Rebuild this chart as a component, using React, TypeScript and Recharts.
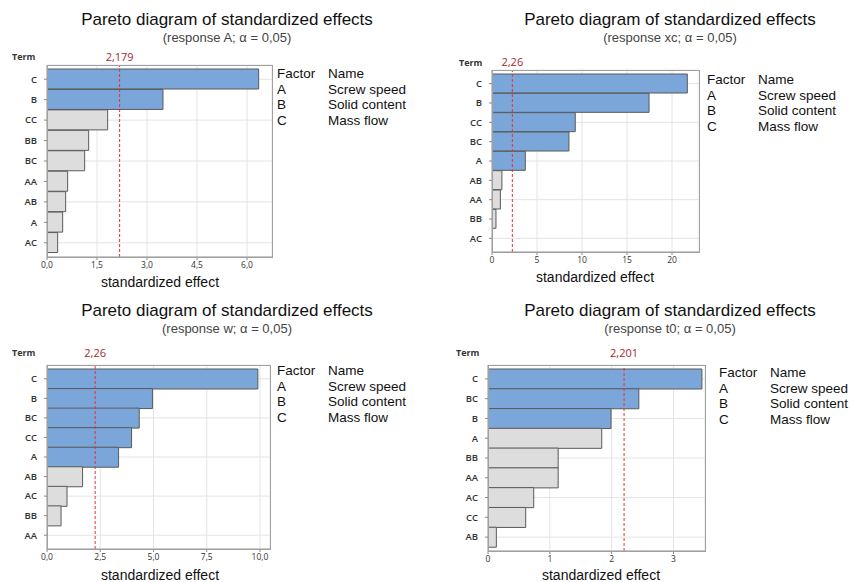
import React from 'react';
import { BarChart, Bar, XAxis, YAxis, CartesianGrid, ReferenceLine, Cell } from 'recharts';

// terms are listed top to bottom, as in the picture
const termsA = ['C', 'B', 'CC', 'BB', 'BC', 'AA', 'AB', 'A', 'AC'];
const effectsA = [6.35, 3.48, 1.82, 1.25, 1.13, 0.62, 0.56, 0.47, 0.32];
const ticksA = [0, 1.5, 3, 4.5, 6];

const termsXc = ['C', 'B', 'CC', 'BC', 'A', 'AB', 'AA', 'BB', 'AC'];
const effectsXc = [21.7, 17.45, 9.25, 8.55, 3.7, 1.1, 0.93, 0.44, 0.05];
const ticksXc = [0, 5, 10, 15, 20];

const termsW = ['C', 'B', 'BC', 'CC', 'A', 'AB', 'AC', 'BB', 'AA'];
const effectsW = [9.9, 4.95, 4.33, 3.97, 3.36, 1.67, 0.94, 0.66, 0.02];
const ticksW = [0, 2.5, 5, 7.5, 10];

const termsT0 = ['C', 'BC', 'B', 'A', 'BB', 'AA', 'AC', 'CC', 'AB'];
const effectsT0 = [3.46, 2.44, 1.99, 1.84, 1.135, 1.135, 0.74, 0.61, 0.135];
const ticksT0 = [0, 1, 2, 3];

const factors = ['A', 'B', 'C'];
const factorNames = ['Screw speed', 'Solid content', 'Mass flow'];

const FONT = '"Open Sans", "Noto Sans", sans-serif';
// tighter line metrics, so the closely set title and legend lines don't collide
const TFONT = '"Liberation Sans", Arial, sans-serif';
const BLUE = '#7ba6da';
const GREY = '#dddddd';

type PanelProps = {
  response: string;
  terms: string[];
  effects: number[];
  highlighted: number;
  ticks: number[];
  decimals: number;
  xMax: number;
  critical: number;
  criticalLabel: string;
  left: number;
  top: number;
  plot: { l: number; t: number; r: number; b: number };
  titleX: number;
  labelX: number;
  labelY: number;
  termPos: [number, number];
  legendPos: [number, number];
  refOffset: number;
};

const Txt = ({ x, y, children, style, align = 'center' }: any) => (
  <div
    style={{
      position: 'absolute',
      left: x,
      top: y,
      transform: align === 'center' ? 'translate(-50%, -50%)' : 'translate(0, -50%)',
      whiteSpace: 'nowrap',
      fontFamily: TFONT,
      lineHeight: 1,
      ...style,
    }}
  >
    {children}
  </div>
);

const Panel = (p: PanelProps) => {
  const W = 426;
  const H = 291;
  const data = p.terms.map((t, i) => ({ term: t, value: p.effects[i] }));
  const fmt = (v: number) => v.toFixed(p.decimals).replace('.', ',');
  const lg = { fontSize: 13.5, color: '#111' };
  return (
    <>
      <div style={{ position: 'absolute', left: p.left, top: p.top, width: W, height: H }}>
        <BarChart
          width={W}
          height={H}
          data={data}
          layout="vertical"
          barCategoryGap={0}
          margin={{
            top: p.plot.t - p.top,
            right: p.left + W - p.plot.r,
            left: 0,
            bottom: p.top + H - p.plot.b - 20,
          }}
        >
          <CartesianGrid stroke="#e4e4e4" />
          <XAxis
            type="number"
            domain={[0, p.xMax]}
            ticks={p.ticks}
            tickFormatter={fmt}
            height={20}
            tickSize={3}
            tickMargin={2}
            tick={{ fontSize: 8.5, fill: '#333', fontFamily: FONT }}
            axisLine={{ stroke: '#a0a0a0' }}
            tickLine={{ stroke: '#888' }}
            allowDataOverflow
          />
          <YAxis
            type="category"
            dataKey="term"
            width={p.plot.l - p.left}
            padding={{ top: 4, bottom: 4 }}
            tickSize={3}
            tickMargin={7}
            tick={{ fontSize: 9.5, fill: '#333', fontWeight: 600, fontFamily: FONT }}
            axisLine={{ stroke: '#a0a0a0' }}
            tickLine={{ stroke: '#888' }}
          />
          <Bar dataKey="value" stroke="#5a5a5a" strokeWidth={1} isAnimationActive={false}>
            {data.map((d, i) => (
              <Cell key={d.term} fill={i < p.highlighted ? BLUE : GREY} />
            ))}
          </Bar>
          <ReferenceLine
            x={p.critical}
            stroke="#e8312f"
            strokeDasharray="3 2"
            label={{
              value: p.criticalLabel,
              position: 'top',
              offset: p.refOffset,
              fill: '#9e2a2b',
              fontSize: 11,
              fontFamily: FONT,
            }}
          />
        </BarChart>
        <div
          style={{
            position: 'absolute',
            left: p.plot.l - p.left,
            top: p.plot.t - p.top,
            width: p.plot.r - p.plot.l - 1,
            height: p.plot.b - p.plot.t - 1,
            border: '1px solid #a0a0a0',
            pointerEvents: 'none',
          }}
        />
      </div>
      <Txt x={p.titleX} y={p.top + 19} style={{ fontSize: 17, color: '#111' }}>
        Pareto diagram of standardized effects
      </Txt>
      <Txt x={p.titleX} y={p.top + 37} style={{ fontSize: 13, color: '#444' }}>
        {`(response ${p.response}; α = 0,05)`}
      </Txt>
      <Txt x={p.termPos[0]} y={p.termPos[1]} align="left" style={{ fontSize: 9, fontWeight: 700, color: '#333', fontFamily: FONT }}>
        Term
      </Txt>
      <Txt x={p.labelX} y={p.labelY} style={{ fontSize: 14, color: '#111' }}>
        standardized effect
      </Txt>
      <Txt x={p.legendPos[0]} y={p.legendPos[1]} align="left" style={lg}>
        Factor
      </Txt>
      <Txt x={p.legendPos[0] + 51} y={p.legendPos[1]} align="left" style={lg}>
        Name
      </Txt>
      {factors.map((f, i) => (
        <React.Fragment key={f}>
          <Txt x={p.legendPos[0]} y={p.legendPos[1] + 15.6 * (i + 1)} align="left" style={lg}>
            {f}
          </Txt>
          <Txt x={p.legendPos[0] + 51} y={p.legendPos[1] + 15.6 * (i + 1)} align="left" style={lg}>
            {factorNames[i]}
          </Txt>
        </React.Fragment>
      ))}
    </>
  );
};

export default function App() {
  return (
    <div style={{ position: 'absolute', left: 0, top: 0, width: 853, height: 582, background: '#fff', overflow: 'hidden' }}>
      <Panel
        response="A"
        terms={termsA}
        effects={effectsA}
        highlighted={2}
        ticks={ticksA}
        decimals={1}
        xMax={6.75}
        critical={2.179}
        criticalLabel="2,179"
        left={0}
        top={0}
        plot={{ l: 47, t: 65, r: 272, b: 257 }}
        titleX={227}
        labelX={160}
        labelY={282}
        termPos={[12, 56]}
        legendPos={[277, 74]}
        refOffset={4}
      />
      <Panel
        response="xc"
        terms={termsXc}
        effects={effectsXc}
        highlighted={5}
        ticks={ticksXc}
        decimals={0}
        xMax={23}
        critical={2.26}
        criticalLabel="2,26"
        left={426}
        top={0}
        plot={{ l: 492, t: 70, r: 699, b: 252 }}
        titleX={670}
        labelX={595}
        labelY={277}
        termPos={[459, 62]}
        legendPos={[707, 80]}
        refOffset={4}
      />
      <Panel
        response="w"
        terms={termsW}
        effects={effectsW}
        highlighted={5}
        ticks={ticksW}
        decimals={1}
        xMax={10.47}
        critical={2.26}
        criticalLabel="2,26"
        left={0}
        top={291}
        plot={{ l: 47, t: 365, r: 270, b: 549 }}
        titleX={227}
        labelX={160}
        labelY={575}
        termPos={[12, 352]}
        legendPos={[277, 371]}
        refOffset={8}
      />
      <Panel
        response="t0"
        terms={termsT0}
        effects={effectsT0}
        highlighted={3}
        ticks={ticksT0}
        decimals={0}
        xMax={3.51}
        critical={2.201}
        criticalLabel="2,201"
        left={426}
        top={291}
        plot={{ l: 488, t: 365, r: 705, b: 551 }}
        titleX={670}
        labelX={601}
        labelY={575}
        termPos={[456, 352]}
        legendPos={[719, 373]}
        refOffset={8}
      />
    </div>
  );
}
